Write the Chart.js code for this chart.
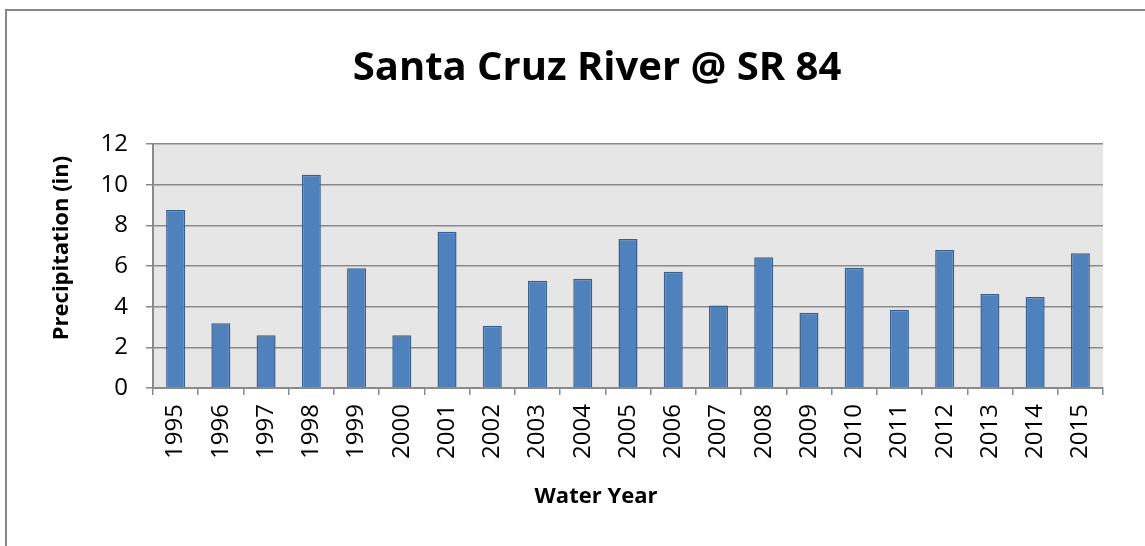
<!DOCTYPE html>
<html>
<head>
<meta charset="utf-8">
<script src="https://cdn.jsdelivr.net/npm/chart.js@4"></script>
<style>
    html, body { margin: 0; padding: 0; background: #ffffff; overflow: hidden; }
    #wrap { width: 1145px; height: 546px; position: relative; }
</style>
</head>
<body>
<div id="wrap"><canvas id="chart_precip" width="1145" height="546"></canvas></div>
<script>
// water years and precipitation (inches)
const waterYears = ["1995", "1996", "1997", "1998", "1999", "2000", "2001", "2002", "2003", "2004",
    "2005", "2006", "2007", "2008", "2009", "2010", "2011", "2012", "2013", "2014", "2015"];
const precipIn = [8.75, 3.18, 2.6, 10.49, 5.89, 2.6, 7.69, 3.06, 5.28, 5.37,
    7.33, 5.72, 4.06, 6.43, 3.7, 5.92, 3.85, 6.79, 4.62, 4.47, 6.63];
const yTicks = [0, 2, 4, 6, 8, 10, 12];

const chartTitle = "Santa Cruz River @ SR 84";
const xTitle = "Water Year";
const yTitle = "Precipitation (in)";

const FONT = "'Open Sans', 'Liberation Sans', sans-serif";
const GRID = "#8a8a8a";

const plotBackground = {
    id: "plotBackground",
    beforeDraw(chart) {
        const { ctx, chartArea } = chart;
        ctx.save();
        ctx.fillStyle = "#e6e6e6";
        ctx.fillRect(chartArea.left, chartArea.top, chartArea.right - chartArea.left, chartArea.bottom - chartArea.top);
        ctx.restore();
    },
};

// the chart object in the reference is wider than the window, so its
// titles sit right of the window centre; draw them by hand
const frameAndTitles = {
    id: "frameAndTitles",
    afterDraw(chart) {
        const ctx = chart.ctx;
        ctx.save();
        // outer chart frame (runs off the right and bottom edges)
        ctx.strokeStyle = "#868686";
        ctx.lineWidth = 2;
        ctx.beginPath();
        ctx.moveTo(6, chart.height + 2);
        ctx.lineTo(6, 10);
        ctx.lineTo(chart.width + 2, 10);
        ctx.stroke();

        ctx.fillStyle = "#000000";
        ctx.textAlign = "center";

        ctx.font = "bold 40px " + FONT;
        ctx.textBaseline = "alphabetic";
        ctx.fillText(chartTitle, 597, 80);

        ctx.textBaseline = "middle";
        ctx.font = "bold 22px " + FONT;
        ctx.fillText(xTitle, 596, 497);
        ctx.translate(62, 248);
        ctx.rotate(-Math.PI / 2);
        ctx.fillText(yTitle, 0, 0);
        ctx.restore();
    },
};

const ctx = document.getElementById("chart_precip").getContext("2d");
new Chart(ctx, {
    type: "bar",
    data: {
        labels: waterYears,
        datasets: [
            {
                label: "Precipitation (in)",
                data: precipIn,
                backgroundColor: "#4f81bd",
                borderColor: "#3a5f8c",
                borderWidth: 1.5,
                barPercentage: 0.42,
                categoryPercentage: 1,
            },
        ],
    },
    options: {
        responsive: false,
        animation: false,
        events: [],
        layout: {
            padding: { left: 50, right: 42, top: 144, bottom: 0 },
        },
        plugins: {
            legend: { display: false },
            tooltip: { enabled: false },
            title: { display: false },
        },
        scales: {
            x: {
                grid: {
                    display: true,
                    offset: true,
                    drawOnChartArea: false,
                    drawTicks: true,
                    tickLength: 7,
                    color: GRID,
                    lineWidth: 1.5,
                },
                border: { display: true, color: GRID, width: 2 },
                ticks: {
                    color: "#000000",
                    font: { family: FONT, size: 24 },
                    minRotation: 90,
                    maxRotation: 90,
                    autoSkip: false,
                    padding: 9,
                },
                afterFit(scale) {
                    scale.height = 158;
                },
            },
            y: {
                min: 0,
                max: 12,
                afterBuildTicks(scale) {
                    scale.ticks = yTicks.map((v) => ({ value: v }));
                },
                grid: {
                    color: GRID,
                    lineWidth: 1.5,
                    tickLength: 7,
                },
                border: { display: true, color: GRID, width: 2 },
                ticks: {
                    color: "#000000",
                    font: { family: FONT, size: 24 },
                    padding: 18,
                },
                afterFit(scale) {
                    scale.width = 103;
                },
            },
        },
    },
    plugins: [plotBackground, frameAndTitles],
});
</script>
</body>
</html>
